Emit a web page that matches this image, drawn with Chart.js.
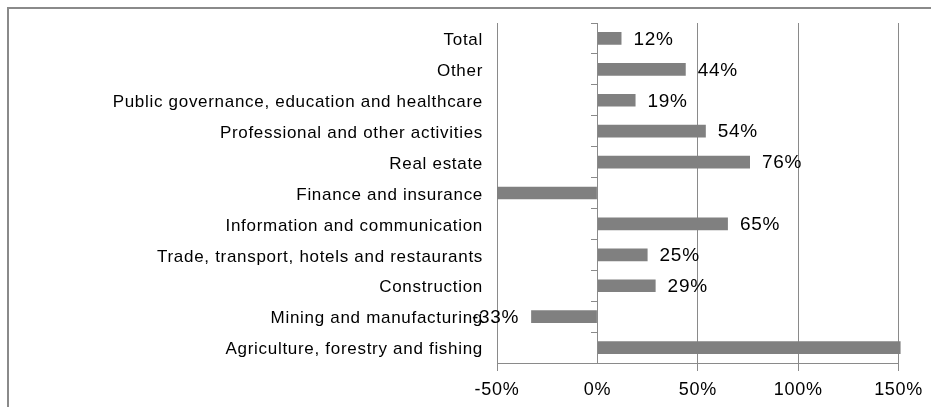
<!DOCTYPE html>
<html>
<head>
<meta charset="utf-8">
<script src="https://cdn.jsdelivr.net/npm/chart.js@4/dist/chart.umd.min.js"></script>
<style>
  html, body { margin: 0; padding: 0; background: #fff; }
  #wrap { position: relative; width: 931px; height: 407px; overflow: hidden; }
  #frame { position: absolute; left: 7px; top: 7px; width: 940px; height: 420px;
           border-top: 2px solid #8a8a8a; border-left: 2px solid #8a8a8a; box-sizing: border-box; }
  canvas { position: absolute; left: 0; top: 0; }
</style>
</head>
<body>
<div id="wrap">
  <div id="frame"></div>
  <canvas id="c" width="931" height="407"></canvas>
</div>
<script>
const categories = [
  'Total',
  'Other',
  'Public governance, education and healthcare',
  'Professional and other activities',
  'Real estate',
  'Finance and insurance',
  'Information and communication',
  'Trade, transport, hotels and restaurants',
  'Construction',
  'Mining and manufacturing',
  'Agriculture, forestry and fishing'
];
// Finance and Agriculture run off the axis in the picture; values are estimates.
const values = [12, 44, 19, 54, 76, -60, 65, 25, 29, -33, 160];
const axisMin = -50;
const axisMax = 150;
const axisStep = 50;

const GRID = '#8a8a8a';
const SPACING = '0.7px';

const spacingPlugin = {
  id: 'spacing',
  beforeLayout(chart) { chart.ctx.letterSpacing = SPACING; },
  beforeDraw(chart) { chart.ctx.letterSpacing = SPACING; }
};

const valueLabels = {
  id: 'valueLabels',
  afterDatasetsDraw(chart) {
    const ctx = chart.ctx;
    const meta = chart.getDatasetMeta(0);
    ctx.save();
    ctx.letterSpacing = SPACING;
    ctx.font = '19px "Liberation Sans", Arial, sans-serif';
    ctx.fillStyle = '#000';
    ctx.textBaseline = 'middle';
    meta.data.forEach((bar, i) => {
      const v = values[i];
      if (v < axisMin || v > axisMax) return;
      const txt = v + '%';
      if (v >= 0) {
        ctx.textAlign = 'left';
        ctx.fillText(txt, bar.x + 12, bar.y + 1);
      } else {
        ctx.textAlign = 'right';
        ctx.fillText(txt, bar.x - 12, bar.y + 1);
      }
    });
    ctx.restore();
  }
};

new Chart(document.getElementById('c'), {
  type: 'bar',
  data: {
    labels: categories,
    datasets: [{
      data: values,
      backgroundColor: '#808080',
      borderWidth: 0,
      barPercentage: 0.41,
      categoryPercentage: 1,
      clip: { left: 0, right: 2, top: false, bottom: false }
    }]
  },
  options: {
    indexAxis: 'y',
    responsive: false,
    animation: false,
    devicePixelRatio: 1,
    layout: { padding: { top: 23, right: 31, left: 0, bottom: 0 } },
    plugins: { legend: { display: false }, tooltip: { enabled: false } },
    scales: {
      x: {
        type: 'linear',
        min: axisMin,
        max: axisMax,
        ticks: {
          stepSize: axisStep,
          callback: v => v + '%',
          color: '#000',
          font: { family: '"Liberation Sans", Arial, sans-serif', size: 18 },
          padding: 8,
          maxRotation: 0
        },
        grid: {
          color: GRID,
          lineWidth: 1,
          tickLength: 8,
          tickColor: c => (c.tick && c.tick.value === 0) ? 'rgba(0,0,0,0)' : GRID
        },
        border: { display: true, color: GRID, width: 1 },
        afterFit: s => { s.height = 44; }
      },
      y: {
        type: 'category',
        grid: { display: false },
        border: { display: false },
        ticks: {
          color: '#000',
          font: { family: '"Liberation Sans", Arial, sans-serif', size: 17 },
          padding: 6,
          labelOffset: 2,
          autoSkip: false
        },
        afterFit: s => { s.width = 497; }
      },
      y2: {
        type: 'category',
        axis: 'y',
        position: { x: 0 },
        ticks: { display: false },
        grid: { drawOnChartArea: false, offset: true, tickLength: 6, color: GRID },
        border: { display: true, color: GRID, width: 1 }
      }
    }
  },
  plugins: [spacingPlugin, valueLabels]
});
</script>
</body>
</html>
